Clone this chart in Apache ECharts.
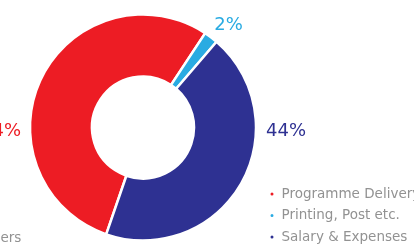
<!DOCTYPE html>
<html><head><meta charset="utf-8">
<script src="https://cdn.jsdelivr.net/npm/echarts@6/dist/echarts.min.js"></script>
<style>html,body{margin:0;padding:0;background:#fff}#c{width:414px;height:244px}</style>
</head><body><div id="c"></div>
<script>
const categories = ['Programme Delivery', 'Printing, Post etc.', 'Salary & Expenses'];
const values = [54, 2, 44];
const colors = ['#ed1c24', '#29abe2', '#2e3192'];
const otherLegendText = 'Others';

const cx = 143, cy = 127.5, R = 113, r = 51;
const startAngle = 251;
const total = values.reduce((a, b) => a + b, 0);

const chart = echarts.init(document.getElementById('c'), null, {renderer: 'canvas'});
chart.setOption({
  animation: false,
  legend: {
    orient: 'vertical',
    left: 263.5,
    top: 181,
    height: 120,
    icon: 'circle',
    itemWidth: 5,
    itemHeight: 5,
    itemGap: 5.5,
    data: categories,
    textStyle: {color: '#929292', fontSize: 13.5, fontFamily: 'DejaVu Sans', lineHeight: 16, padding: [0, 0, 0, 2]}
  },
  graphic: [{
    type: 'text', left: -24, top: 231,
    style: {text: otherLegendText, fill: '#929292', font: '13.5px "DejaVu Sans"'}
  }],
  series: [{
    type: 'pie',
    center: [cx, cy],
    radius: [r, R],
    startAngle: startAngle,
    clockwise: true,
    avoidLabelOverlap: false,
    itemStyle: {borderColor: '#fff', borderWidth: 2.5},
    label: {
      show: true,
      formatter: p => p.value + '%',
      fontFamily: 'DejaVu Sans',
      fontSize: 18,
      color: 'inherit'
    },
    labelLine: {show: false},
    labelLayout: function (p) {
      const i = p.dataIndex;
      if (i === 0) return {x: cx - R - 9, y: cy + 4, align: 'right', verticalAlign: 'middle'};
      if (i === 2) return {x: cx + R + 10, y: cy + 4, align: 'left', verticalAlign: 'middle'};
      let before = 0;
      for (let k = 0; k < i; k++) before += values[k];
      const a = (90 - startAngle) + (before + values[i] / 2) / total * 360;
      const rad = a * Math.PI / 180;
      const d = R + 26;
      return {x: cx + d * Math.sin(rad) + 2, y: cy - d * Math.cos(rad) + 9, align: 'center', verticalAlign: 'middle'};
    },
    data: categories.map((n, i) => ({name: n, value: values[i], itemStyle: {color: colors[i]}, label: {color: colors[i]}}))
  }]
});
</script></body></html>
